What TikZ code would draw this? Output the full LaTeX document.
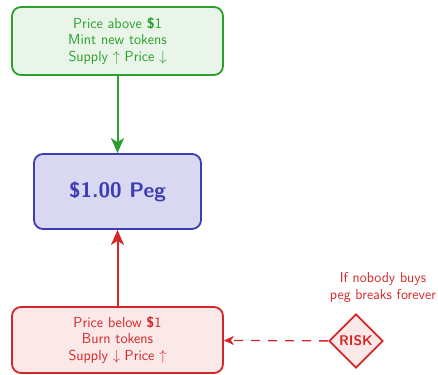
\documentclass[tikz,border=0pt]{standalone}
\usetikzlibrary{shapes.geometric,arrows.meta}
\renewcommand{\familydefault}{\sfdefault}
\definecolor{gr}{RGB}{44,160,44}
\definecolor{grf}{RGB}{232,245,232}
\definecolor{bl}{RGB}{60,60,180}
\definecolor{blf}{RGB}{216,216,240}
\definecolor{rd}{RGB}{214,39,40}
\definecolor{rdf}{RGB}{251,232,232}
\tikzset{
  boxstyle/.style={draw, line width=1.8pt, rounded corners=9pt, align=center, inner sep=0pt,
    font=\fontsize{14.5}{16.5}\selectfont},
  flowarrow/.style={line width=2pt, -{Stealth[length=15pt,width=13pt,inset=4pt]}}}
\begin{document}
\begin{tikzpicture}[x=1pt,y=-1pt]
\useasboundingbox (0,0) rectangle (438,374);
\node[boxstyle, draw=gr, fill=grf, text=gr, minimum width=211pt, minimum height=68pt] (mint) at (117.5,41)
  {Price above \textbf{\$}1\\Mint new tokens\\Supply $\uparrow$ Price $\downarrow$};
\node[boxstyle, draw=bl, fill=blf, text=bl, minimum width=167pt, minimum height=75pt,
  font=\fontsize{21}{24}\selectfont\bfseries] (peg) at (117.5,191.5) {\$1.00 Peg};
\node[boxstyle, draw=rd, fill=rdf, text=rd, minimum width=211pt, minimum height=66pt] (burn) at (117.5,340)
  {Price below \textbf{\$}1\\Burn tokens\\Supply $\downarrow$ Price $\uparrow$};
\node[diamond, draw=rd, fill=rdf, text=rd, line width=1.8pt, inner sep=2.5pt, aspect=1,
  font=\fontsize{14}{16}\selectfont\bfseries] (risk) at (356,341) {RISK};
\node[text=rd, align=center, font=\fontsize{14.3}{17}\selectfont] (note) at (383,287.5)
  {If nobody buys\\peg breaks forever};
\draw[gr, fill=gr, flowarrow, line width=2pt] (mint) -- (peg);
\draw[rd, fill=rd, flowarrow, line width=2pt] (burn) -- (peg);
\draw[rd, line width=1.3pt, dash pattern=on 9pt off 8pt, -{Stealth[length=10pt,width=9pt,inset=3pt]}] (risk) -- (burn);
\end{tikzpicture}
\end{document}
